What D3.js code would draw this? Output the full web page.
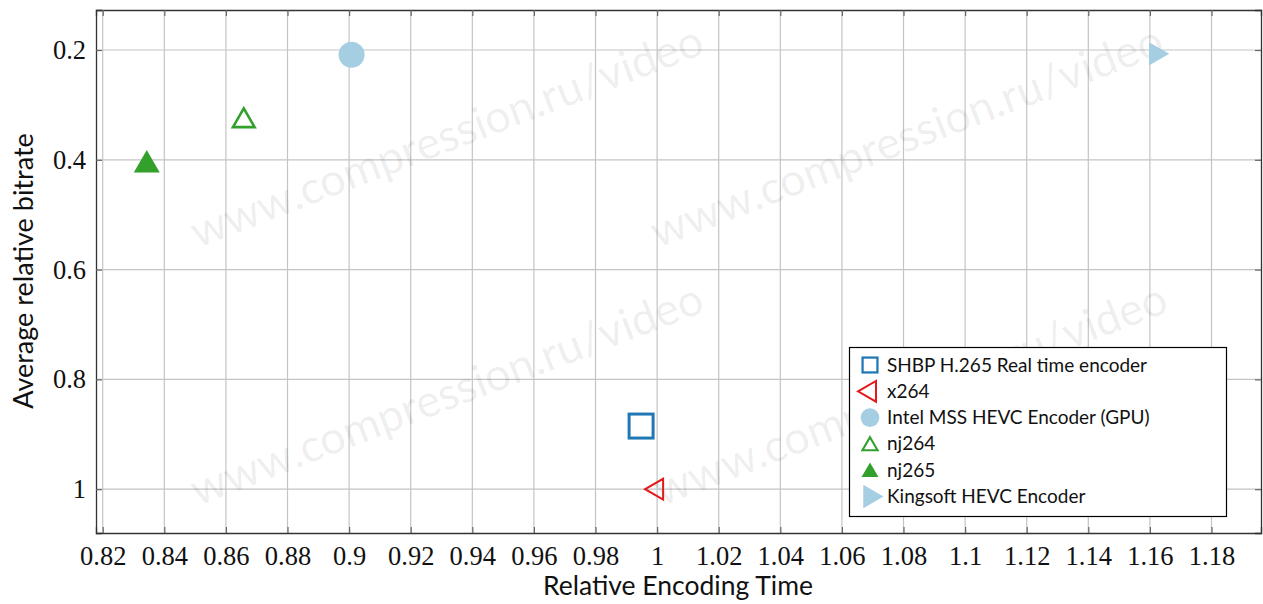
<!DOCTYPE html>
<html>
<head>
<meta charset="utf-8">
<script src="https://cdn.jsdelivr.net/npm/d3@7"></script>
<style>
  body { margin: 0; background: #fff; }
  svg { display: block; }
</style>
</head>
<body>
<script>
// data
const encoders = ["SHBP H.265 Real time encoder", "x264", "Intel MSS HEVC Encoder (GPU)", "nj264", "nj265", "Kingsoft HEVC Encoder"];
const encTime = [0.9948, 1.0, 0.9008, 0.8658, 0.8343, 1.1619];
const bitrate = [0.885, 1.0, 0.2086, 0.329, 0.4096, 0.207];
const markers = ["square", "tri-left", "circle", "tri-open", "tri-fill", "tri-right"];
const colors = ["#1f78b4", "#e31a1c", "#a6cee3", "#33a02c", "#33a02c", "#a6cee3"];
const xTicks = [0.82, 0.84, 0.86, 0.88, 0.9, 0.92, 0.94, 0.96, 0.98, 1, 1.02, 1.04, 1.06, 1.08, 1.1, 1.12, 1.14, 1.16, 1.18];
const yTicks = [0.2, 0.4, 0.6, 0.8, 1];
const watermark = "www.compression.ru/video";

let w = 1263, h = 604;
let pLeft = 96, pRight = 1261, pTop = 10, pBottom = 533;

let svg = d3.select('body').append('svg').attr('width', w).attr('height', h);

let x = d3.scaleLinear().domain([0.81782, 1.19607]).range([pLeft, pRight]);
let y = d3.scaleLinear().domain([0.1271, 1.0798]).range([pTop, pBottom]);

// grid
svg.append('g').selectAll('line').data(xTicks).enter().append('line')
  .attr('x1', d => x(d)).attr('x2', d => x(d)).attr('y1', pTop).attr('y2', pBottom)
  .attr('stroke', '#c4c4c4').attr('stroke-width', 1.2);
svg.append('g').selectAll('line').data(yTicks).enter().append('line')
  .attr('y1', d => y(d)).attr('y2', d => y(d)).attr('x1', pLeft).attr('x2', pRight)
  .attr('stroke', '#c4c4c4').attr('stroke-width', 1.2);

// watermark
let wm = svg.append('g');
[[448, 140], [908, 140], [448, 398], [912, 398]].forEach(p => {
  wm.append('text')
    .attr('transform', `translate(${p[0]},${p[1]}) rotate(-21)`)
    .attr('text-anchor', 'middle').attr('dominant-baseline', 'middle')
    .style('font-family', 'Lato, sans-serif').style('font-size', '45px')
    .attr('fill', '#000').attr('fill-opacity', 0.075)
    .text(watermark);
});

// axes with inward ticks on all four sides
let tickLen = 6;
let xAxisB = d3.axisBottom(x).tickValues(xTicks).tickSize(-tickLen).tickFormat(d3.format('~g')).tickPadding(13);
let xAxisT = d3.axisTop(x).tickValues(xTicks).tickSize(-tickLen).tickFormat('');
let yAxisL = d3.axisLeft(y).tickValues(yTicks).tickSize(-tickLen).tickFormat(d3.format('~g')).tickPadding(10);
let yAxisR = d3.axisRight(y).tickValues(yTicks).tickSize(-tickLen).tickFormat('');

let gb = svg.append('g').attr('transform', `translate(0,${pBottom})`).call(xAxisB);
let gt = svg.append('g').attr('transform', `translate(0,${pTop})`).call(xAxisT);
let gl = svg.append('g').attr('transform', `translate(${pLeft},0)`).call(yAxisL);
let gr = svg.append('g').attr('transform', `translate(${pRight},0)`).call(yAxisR);
[gb, gt, gl, gr].forEach(g => {
  g.select('.domain').attr('stroke', '#333').attr('stroke-width', 1.3);
  g.selectAll('.tick line').attr('stroke', '#666').attr('stroke-width', 1.2);
  g.selectAll('.tick text').attr('fill', '#111')
    .style('font-family', '"Liberation Serif", serif').style('font-size', '26.5px');
});
gl.selectAll('.tick text').attr('dy', '0.32em');

// axis labels
svg.append('text')
  .attr('x', 678).attr('y', 595).attr('text-anchor', 'middle')
  .style('font-family', 'Lato, sans-serif').style('font-size', '26.5px').attr('fill', '#111')
  .text('Relative Encoding Time');
svg.append('text')
  .attr('transform', `translate(33,271) rotate(-90)`).attr('text-anchor', 'middle')
  .style('font-family', 'Lato, sans-serif').style('font-size', '27px').attr('fill', '#111')
  .text('Average relative bitrate');

// marker drawing
function triPath(r, angle) {
  let pts = [0, 120, 240].map(a => {
    let t = (a + angle) * Math.PI / 180;
    return [r * Math.cos(t), r * Math.sin(t)];
  });
  return 'M' + pts.map(p => p.join(',')).join('L') + 'Z';
}
function drawMarker(g, type, color, cx, cy, s) {
  if (type == 'square') {
    g.append('rect').attr('x', cx - 12 * s).attr('y', cy - 12 * s)
      .attr('width', 24 * s).attr('height', 24 * s)
      .attr('fill', 'none').attr('stroke', color).attr('stroke-width', 3 * Math.max(s, 0.75));
  } else if (type == 'circle') {
    g.append('circle').attr('cx', cx).attr('cy', cy).attr('r', 13 * s).attr('fill', color);
  } else if (type == 'tri-left') {
    g.append('path').attr('transform', `translate(${cx},${cy})`).attr('d', triPath(12, 180))
      .attr('fill', 'none').attr('stroke', color).attr('stroke-width', 2);
  } else if (type == 'tri-right') {
    g.append('path').attr('transform', `translate(${cx},${cy})`).attr('d', triPath(13.5, 0))
      .attr('fill', color);
  } else if (type == 'tri-open') {
    g.append('path').attr('transform', `translate(${cx},${cy})`).attr('d', triPath(12.5 * s, -90))
      .attr('fill', 'none').attr('stroke', color).attr('stroke-width', 2.6 * Math.max(s, 0.8));
  } else if (type == 'tri-fill') {
    g.append('path').attr('transform', `translate(${cx},${cy})`).attr('d', triPath(15 * s, -90))
      .attr('fill', color);
  }
}

let pts = svg.append('g');
encoders.forEach((e, i) => drawMarker(pts, markers[i], colors[i], x(encTime[i]), y(bitrate[i]), 1));

// legend
let lg = svg.append('g');
lg.append('rect').attr('x', 849.5).attr('y', 347.5).attr('width', 377).attr('height', 169)
  .attr('fill', '#fff').attr('stroke', '#000').attr('stroke-width', 1.2);
let legendScale = [0.62, 1, 0.72, 0.7, 0.65, 1];
encoders.forEach((e, i) => {
  let cy = 365 + i * 26.3;
  let cx = 870;
  drawMarker(lg, markers[i], colors[i], cx, cy + (markers[i] == 'tri-open' || markers[i] == 'tri-fill' ? 2 : 0), legendScale[i]);
  lg.append('text').attr('x', 887).attr('y', cy + 6.5)
    .style('font-family', 'Lato, sans-serif').style('font-size', '19px').attr('fill', '#111')
    .text(e);
});
</script>
</body>
</html>
